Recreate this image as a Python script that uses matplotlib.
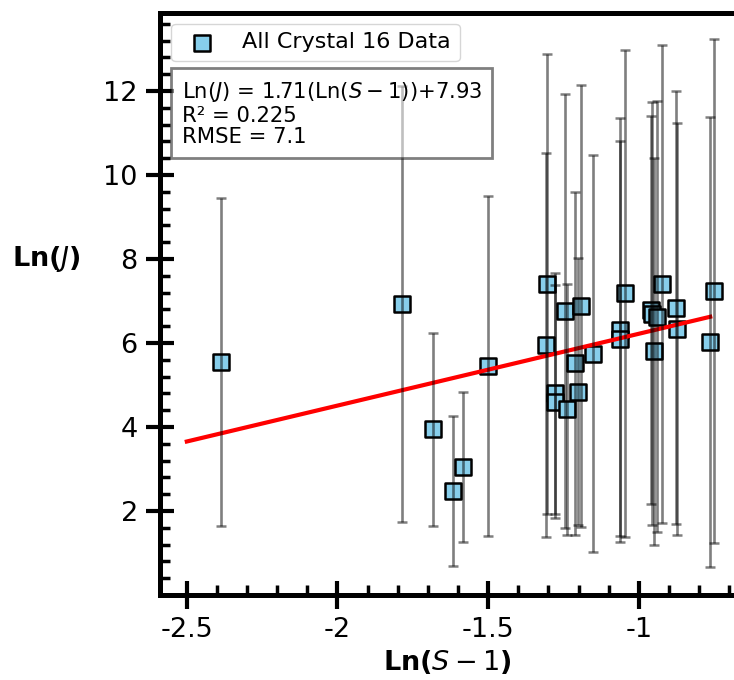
import matplotlib
matplotlib.use("Agg")
import matplotlib.pyplot as plt
from matplotlib.ticker import AutoMinorLocator, FuncFormatter

plt.rcParams['axes.unicode_minus'] = False

# Data: Ln(S-1), Ln(J), symmetric error
ln_s1 = [-2.386, -1.787, -1.683, -1.617, -1.583, -1.500,
         -1.303, -1.307, -1.244, -1.192, -1.212, -1.151,
         -1.278, -1.278, -1.237, -1.201, -1.063, -1.063,
         -1.046, -0.923, -0.959, -0.957, -0.940, -0.949,
         -0.876, -0.873, -0.749, -0.763]
ln_j = [5.55, 6.93, 3.95, 2.48, 3.05, 5.45,
        7.40, 5.95, 6.76, 6.89, 5.52, 5.75,
        4.80, 4.60, 4.42, 4.84, 6.31, 6.10,
        7.18, 7.40, 6.79, 6.70, 6.63, 5.80,
        6.84, 6.33, 7.25, 6.02]
ln_j_err = [3.90, 5.19, 2.30, 1.79, 1.78, 4.05,
            5.47, 4.57, 5.16, 5.26, 4.08, 4.72,
            2.86, 2.77, 2.99, 3.18, 5.05, 4.70,
            5.79, 5.69, 4.62, 5.03, 5.14, 4.61,
            5.16, 4.90, 6.00, 5.36]

slope = 1.71
intercept = 7.93
fit_range = [-2.5, -0.763]
r2 = 0.225
rmse = 7.1

x_ticks = [-2.5, -2.0, -1.5, -1.0]
y_ticks = [2, 4, 6, 8, 10, 12]

fig = plt.figure(figsize=(7.34, 6.8), dpi=100)
ax = fig.add_axes([160/734, 85/680, (734-160)/734, (595-12.5)/680])

ax.scatter(ln_s1, ln_j, marker='s', s=135, facecolor='skyblue',
           edgecolor='black', linewidths=1.8, zorder=2,
           label='All Crystal 16 Data')
fx = fit_range
fy = [slope*v + intercept for v in fx]
ax.plot(fx, fy, color='red', lw=3, zorder=3)
ax.errorbar(ln_s1, ln_j, yerr=ln_j_err, fmt='none', ecolor='black',
            alpha=0.5, elinewidth=1.9, capsize=3.5, capthick=1.8, zorder=4)

ax.set_xlim(-2.589, -0.684)
ax.set_ylim(0.0, 13.87)

ax.set_xticks(x_ticks)
ax.set_yticks(y_ticks)
ax.xaxis.set_major_formatter(FuncFormatter(lambda v, p: '%g' % v))
ax.yaxis.set_major_formatter(FuncFormatter(lambda v, p: '%g' % v))
ax.xaxis.set_minor_locator(AutoMinorLocator(5))
ax.yaxis.set_minor_locator(AutoMinorLocator(5))

ax.tick_params(which='major', direction='inout', length=20, width=3,
               labelsize=19.5, pad=6)
ax.tick_params(which='minor', direction='in', length=7, width=2.5)

for side in ['left', 'bottom', 'top']:
    ax.spines[side].set_linewidth(3.6)
ax.spines['right'].set_visible(False)

ax.set_xlabel('Ln($S-1$)', fontsize=19.5, fontweight='bold')
ax.xaxis.set_label_coords(0.5, -0.115)
ax.xaxis.label.set_va('center')
ax.set_ylabel('Ln($J$)', fontsize=19.5, fontweight='bold', rotation=0)
ax.yaxis.set_label_coords(-0.1986, 0.5768)
ax.yaxis.label.set_va('center')
ax.yaxis.label.set_ha('center')

ax.legend(loc='upper left', fontsize=16)

txt = ('Ln($J$) = %.2f(Ln($S-1$))+%.2f\nR\u00b2 = %.3f\nRMSE = %.1f'
       % (slope, intercept, r2, rmse))
ax.text(0.0378, 0.884, txt, transform=ax.transAxes, fontsize=15.2,
        va='top', ha='left', zorder=5, linespacing=1.1,
        bbox=dict(boxstyle='square,pad=0.5', facecolor='white',
                  edgecolor='black', alpha=0.5, linewidth=2))

fig.savefig('out.png', dpi=100)
